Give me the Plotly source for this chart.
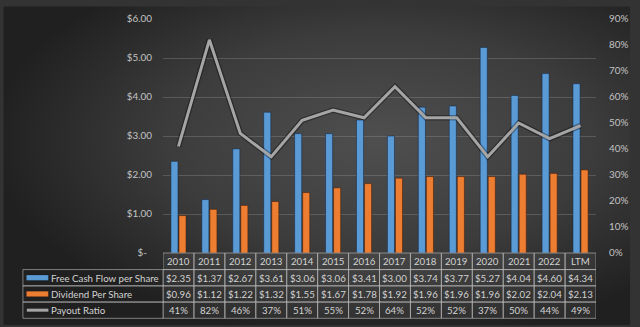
import base64
import plotly.graph_objects as go

# ---- data -------------------------------------------------------------
years = ["2010", "2011", "2012", "2013", "2014", "2015", "2016",
         "2017", "2018", "2019", "2020", "2021", "2022", "LTM"]
fcf_per_share = [2.35, 1.37, 2.67, 3.61, 3.06, 3.06, 3.41,
                 3.00, 3.74, 3.77, 5.27, 4.04, 4.60, 4.34]
dividend_per_share = [0.96, 1.12, 1.22, 1.32, 1.55, 1.67, 1.78,
                      1.92, 1.96, 1.96, 1.96, 2.02, 2.04, 2.13]
payout_pct = [41, 82, 46, 37, 51, 55, 52, 64, 52, 52, 37, 50, 44, 49]

left_ticks = [0, 1, 2, 3, 4, 5, 6]
left_tick_text = ["$-  ", "$1.00", "$2.00", "$3.00", "$4.00", "$5.00", "$6.00"]
right_ticks = [0, 10, 20, 30, 40, 50, 60, 70, 80, 90]

series_names = ["Free Cash Flow per Share", "Dividend Per Share", "Payout Ratio"]

# ---- style ------------------------------------------------------------
BLUE = "#5b9bd5"
ORANGE = "#ed7d31"
GRAY = "#a5a5a5"
TEXT = "#d2d2d2"
AXIS_TEXT = "#c4c4c4"
GRID = "rgba(150,150,150,0.35)"
CELL_LINE = "rgba(190,190,190,0.6)"
CELL_FILL = "rgba(255,255,255,0.06)"
FONT = "Lato, sans-serif"
FS_TABLE = 9.7
FS_AXIS = 9.9

W, H = 640, 327
M_L, M_R, M_T, M_B = 163, 35, 13, 74
PLOT_W = W - M_L - M_R
PLOT_H = H - M_T - M_B

fig = go.Figure()

fig.add_trace(go.Bar(
    x=years, y=fcf_per_share, name=series_names[0],
    marker=dict(color=BLUE, line=dict(color="rgba(20,40,70,0.55)", width=1)),
))
fig.add_trace(go.Bar(
    x=years, y=dividend_per_share, name=series_names[1],
    marker=dict(color=ORANGE, line=dict(color="rgba(70,30,10,0.55)", width=1)),
))
payout_frac = [p / 100 for p in payout_pct]
# soft dark shadow under the ratio line
fig.add_trace(go.Scatter(
    x=years, y=payout_frac, yaxis="y2", mode="lines",
    line=dict(color="rgba(0,0,0,0.35)", width=5.5), hoverinfo="skip",
))
fig.add_trace(go.Scatter(
    x=years, y=payout_frac, yaxis="y2", mode="lines", name=series_names[2],
    line=dict(color=GRAY, width=3),
))

# ---- data table under the plot ---------------------------------------
px_to_paper_y = lambda p: (H - M_B - p) / PLOT_H
px_to_paper_x = lambda p: (p - M_L) / PLOT_W

row_edges_px = [253, 270, 286.7, 303.3, 320]
row_edges = [px_to_paper_y(p) for p in row_edges_px]
legend_left = px_to_paper_x(20)

shapes = []
annotations = []
n = len(years)

def cell(x0, x1, xref, y0, y1, fill):
    shapes.append(dict(type="rect", xref=xref, yref="paper", x0=x0, x1=x1,
                       y0=y0, y1=y1, line=dict(color=CELL_LINE, width=1),
                       fillcolor=fill, layer="above"))

def label(x, xref, y, text, xanchor="center"):
    annotations.append(dict(x=x, xref=xref, y=y, yref="paper", text=text,
                            showarrow=False, xanchor=xanchor, yanchor="middle",
                            borderpad=0,
                            font=dict(color=TEXT, size=FS_TABLE, family=FONT)))

row_values = [
    [f"${v:.2f}" for v in fcf_per_share],
    [f"${v:.2f}" for v in dividend_per_share],
    [f"{p}%" for p in payout_pct],
]

for i, yr in enumerate(years):
    # header cell with the period name
    cell(i - 0.5, i + 0.5, "x", row_edges[1], row_edges[0], CELL_FILL)
    label(i, "x", (row_edges[0] + row_edges[1]) / 2, yr)
    for r in range(3):
        cell(i - 0.5, i + 0.5, "x", row_edges[r + 2], row_edges[r + 1], CELL_FILL)
        label(i, "x", (row_edges[r + 1] + row_edges[r + 2]) / 2, row_values[r][i])

# legend column
swatch_colors = [BLUE, ORANGE, GRAY]
for r in range(3):
    y0, y1 = row_edges[r + 2], row_edges[r + 1]
    cell(legend_left, 0, "paper", y0, y1, "rgba(0,0,0,0)")
    yc = (y0 + y1) / 2
    if r < 2:
        h = 2.8 / PLOT_H
        shapes.append(dict(type="rect", xref="paper", yref="paper",
                           x0=px_to_paper_x(23.5), x1=px_to_paper_x(46),
                           y0=yc - h, y1=yc + h, fillcolor=swatch_colors[r],
                           line=dict(color="rgba(0,0,0,0.4)", width=0.5), layer="above"))
    else:
        shapes.append(dict(type="line", xref="paper", yref="paper",
                           x0=px_to_paper_x(24), x1=px_to_paper_x(46),
                           y0=yc, y1=yc, line=dict(color=GRAY, width=3), layer="above"))
    label(px_to_paper_x(47.5), "paper", yc, series_names[r], xanchor="left")

# ---- background gradient ---------------------------------------------
svg = f"""<svg xmlns='http://www.w3.org/2000/svg' width='{W}' height='{H}'>
<defs><radialGradient id='g' cx='0.6' cy='0.42' r='0.62'>
<stop offset='0' stop-color='#4f4f4f'/><stop offset='0.55' stop-color='#3c3c3c'/>
<stop offset='1' stop-color='#202020'/></radialGradient></defs>
<rect width='{W}' height='{H}' fill='url(#g)'/></svg>"""
bg_src = "data:image/svg+xml;base64," + base64.b64encode(svg.encode()).decode()

fig.update_layout(
    width=W, height=H,
    margin=dict(l=M_L, r=M_R, t=M_T, b=M_B, pad=0),
    paper_bgcolor="#333333", plot_bgcolor="rgba(0,0,0,0)",
    showlegend=False,
    barmode="group", bargap=0.48, bargroupgap=0.12,
    font=dict(family=FONT, size=FS_AXIS, color=AXIS_TEXT),
    xaxis=dict(type="category", showticklabels=False, showgrid=False,
               zeroline=False, showline=False, ticks="", range=[-0.5, n - 0.5]),
    yaxis=dict(range=[0, 6], tickvals=left_ticks, ticktext=left_tick_text,
               showgrid=True, gridcolor=GRID, gridwidth=1, zeroline=False,
               showline=False, ticks="", ticklabelstandoff=10,
               tickfont=dict(color=AXIS_TEXT, size=FS_AXIS, family=FONT)),
    yaxis2=dict(range=[0, 0.9], overlaying="y", side="right",
                tickvals=[t / 100 for t in right_ticks],
                ticktext=[f"{t}%" for t in right_ticks],
                showgrid=False, zeroline=False, showline=False, ticks="",
                ticklabelstandoff=12,
                tickfont=dict(color=AXIS_TEXT, size=FS_AXIS, family=FONT)),
    shapes=shapes, annotations=annotations,
    images=[dict(source=bg_src, xref="paper", yref="paper",
                 x=-M_L / PLOT_W, y=1 + M_T / PLOT_H,
                 sizex=W / PLOT_W, sizey=H / PLOT_H,
                 xanchor="left", yanchor="top", sizing="stretch",
                 layer="below")],
)

fig.write_html("out.html", config=dict(displayModeBar=False))
